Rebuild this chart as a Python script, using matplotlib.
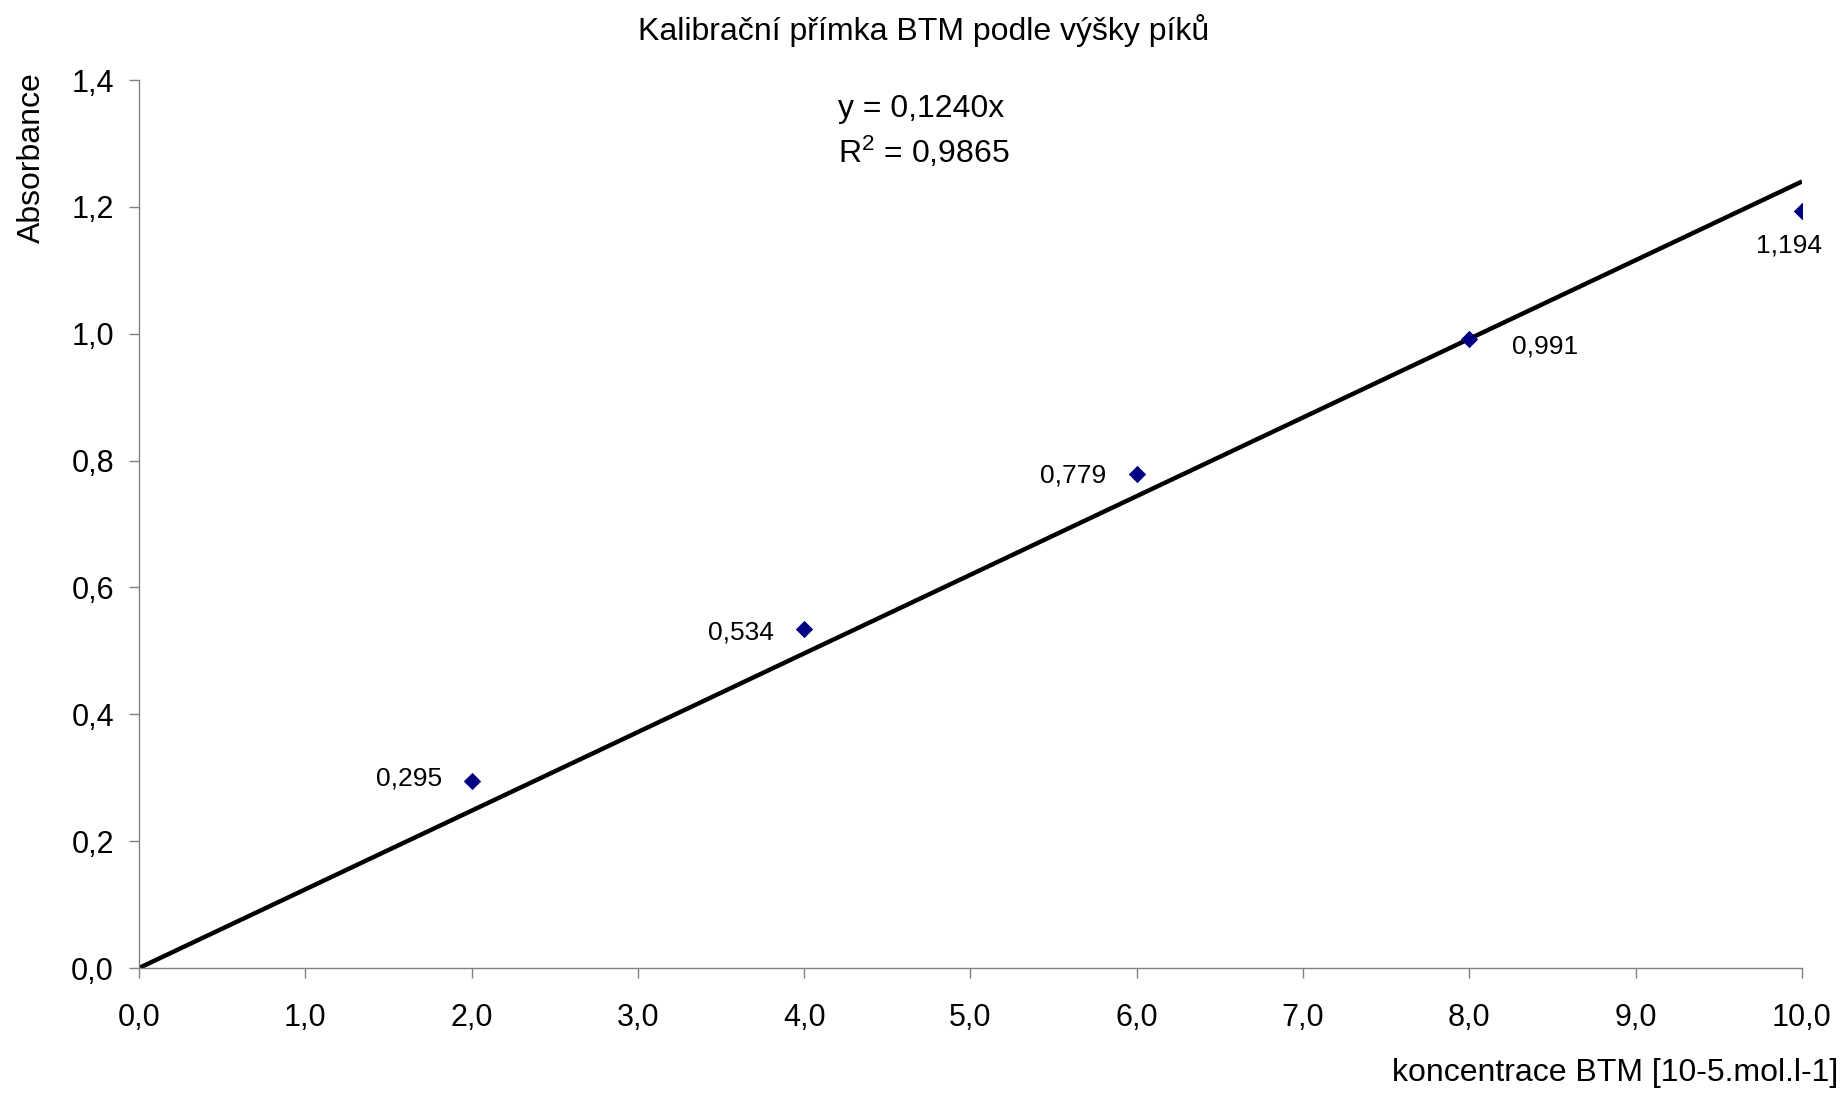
import matplotlib
matplotlib.use("Agg")
import matplotlib.pyplot as plt
import numpy as np

plt.rcParams['font.family'] = ['Liberation Sans', 'DejaVu Sans']
plt.rcParams['mathtext.fontset'] = 'custom'
plt.rcParams['mathtext.rm'] = 'Liberation Sans'
plt.rcParams['mathtext.it'] = 'Liberation Sans:italic'
plt.rcParams['mathtext.bf'] = 'Liberation Sans:bold'

conc = [2.0, 4.0, 6.0, 8.0, 10.0]
absorb = [0.295, 0.534, 0.779, 0.991, 1.194]
labels = ["0,295", "0,534", "0,779", "0,991", "1,194"]
slope = 0.1240
r2 = 0.9865
xticks = [0, 1, 2, 3, 4, 5, 6, 7, 8, 9, 10]
yticks = [0.0, 0.2, 0.4, 0.6, 0.8, 1.0, 1.2, 1.4]

W, H = 1849, 1093
fig = plt.figure(figsize=(W / 100, H / 100), dpi=100)
ax = fig.add_axes([139 / W, 1 - 968 / H, (1802 - 139) / W, (968 - 80) / H])

xl = np.array([0.0, 10.0])
ax.plot(xl, slope * xl, color='black', lw=3.2, zorder=2, solid_capstyle='butt')
ax.scatter(conc, absorb, marker='D', s=78, color='#000080', zorder=3, linewidths=0)

offsets = [(-29, 2, 'right', 'center'), (-30, -3, 'right', 'center'), (-31, -2, 'right', 'center'),
           (43, -7, 'left', 'center'), (-13, -35, 'center', 'center')]
for x, y, t, (dx, dy, ha, va) in zip(conc, absorb, labels, offsets):
    ax.annotate(t, (x, y), xytext=(dx, dy), textcoords='offset pixels', ha=ha, va=va, fontsize=19)

ax.set_xlim(0, 10)
ax.set_ylim(0, 1.4)
ax.set_xticks(xticks)
ax.set_xticklabels([f"{v:.1f}".replace('.', ',') for v in xticks])
ax.set_yticks(yticks)
ax.set_yticklabels([f"{v:.1f}".replace('.', ',') for v in yticks])
for s in ['top', 'right']:
    ax.spines[s].set_visible(False)
for s in ['left', 'bottom']:
    ax.spines[s].set_color('#808080')
    ax.spines[s].set_linewidth(1.0)
ax.tick_params(axis='both', direction='out', length=7, width=1.0, color='#808080', labelsize=22)
ax.tick_params(axis='x', pad=18)
ax.tick_params(axis='y', pad=11)

fig.text(924 / W, 1 - 40 / H, "Kalibrační přímka BTM podle výšky píků", ha='center', va='baseline', fontsize=23)
fig.text(838 / W, 1 - 117 / H, "y = 0,1240x", ha='left', va='baseline', fontsize=23)
fig.text(838 / W, 1 - 163 / H, "R$^{2}$ = 0,9865", ha='left', va='baseline', fontsize=23)
fig.text(1838 / W, 1 - 1081 / H, "koncentrace BTM [10-5.mol.l-1]", ha='right', va='baseline', fontsize=23)
fig.text(32 / W, 1 - 158 / H, "Absorbance", ha='center', va='center', rotation=90, fontsize=23)

fig.savefig("out.png", dpi=100, facecolor='white')
